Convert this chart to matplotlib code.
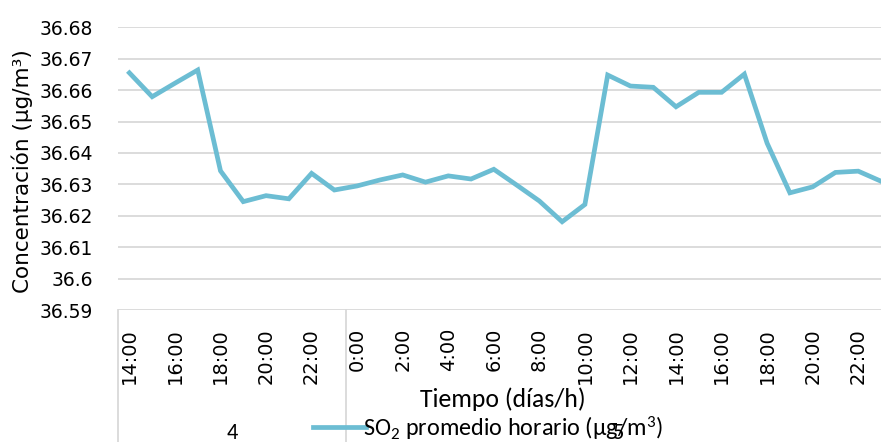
import numpy as np
import matplotlib
matplotlib.use('Agg')
import matplotlib.pyplot as plt
import matplotlib.transforms as mtransforms
from matplotlib import rcParams

rcParams['font.family'] = 'DejaVu Sans'
rcParams['mathtext.fontset'] = 'custom'
rcParams['mathtext.rm'] = 'Carlito'
rcParams['mathtext.it'] = 'Carlito'

# hourly SO2 average, day 4 14:00 -> day 5 23:00
hours = [f'{h}:00' for h in range(14, 24)] + [f'{h}:00' for h in range(0, 24)]
days = ['4', '5']
day_sizes = [10, 24]
so2 = [36.6655, 36.6579, 36.6622, 36.6664, 36.6343, 36.6245, 36.6264,
       36.6254, 36.6335, 36.6282,
       36.6295, 36.6314, 36.6330, 36.6307, 36.6327, 36.6317, 36.6348,
       36.6298, 36.6247, 36.6181, 36.6236, 36.6648, 36.6613, 36.6609,
       36.6547, 36.6593, 36.6593, 36.6651, 36.6431, 36.6273, 36.6292,
       36.6338, 36.6342, 36.6310]
yticks = [36.59, 36.6, 36.61, 36.62, 36.63, 36.64, 36.65, 36.66, 36.67, 36.68]
ytick_labels = ['36.59', '36.6', '36.61', '36.62', '36.63', '36.64',
                '36.65', '36.66', '36.67', '36.68']

W, H = 881, 442
fig = plt.figure(figsize=(W / 100, H / 100), dpi=100)
ax = fig.add_axes([118 / W, 1 - 310 / H, 1 - 118 / W, (310 - 27.3) / H])

x = np.arange(len(so2))
line, = ax.plot(x, so2, color='#6cbdd3', linewidth=3.4,
                solid_joinstyle='miter', zorder=3)

ax.set_ylim(36.59, 36.68)
ax.set_xlim(-0.5, 33.0)
ax.set_yticks(yticks)
ax.set_yticklabels(ytick_labels)
for yv in yticks:
    ax.axhline(yv, color='#d9d9d9', linewidth=1.3, zorder=1)

ax.set_xticks(x[::2])
ax.set_xticklabels(hours[::2], rotation=90, va='top')
ax.tick_params(axis='x', length=0, pad=13, labelsize=14)
ax.tick_params(axis='y', length=0, pad=18, labelsize=13.5)
for s in ax.spines.values():
    s.set_visible(False)

# category group separators and labels under the axis
trans = mtransforms.blended_transform_factory(ax.transData, ax.transAxes)
edges = np.cumsum([0] + day_sizes) - 0.5
for e in edges[:-1]:
    ax.plot([e, e], [0, -0.6], color='#d9d9d9', linewidth=1.3,
            transform=trans, clip_on=False)
for i, d in enumerate(days):
    c = (edges[i] + edges[i + 1]) / 2
    ax.text(c, -(433 - 310) / 282.7, d, transform=trans, ha='center',
            va='center', fontsize=16, family='Carlito')

fig.text(22 / W, 1 - 171 / H, 'Concentración (µg/m³)', rotation=90,
         ha='center', va='center', fontsize=15.5)
fig.text(503 / W, 1 - 399 / H, 'Tiempo (días/h)', ha='center', va='center',
         fontsize=18.5, family='Carlito')

leg = fig.legend([line], ['SO$_2$ promedio horario (µg/m$^3$)'],
                 loc='center left', bbox_to_anchor=(313 / W, 1 - 428 / H),
                 frameon=False, handlelength=2.2, handletextpad=-0.15,
                 borderpad=0, borderaxespad=0,
                 prop={'family': 'Carlito', 'size': 17.5})

fig.savefig('out.png', dpi=100)
